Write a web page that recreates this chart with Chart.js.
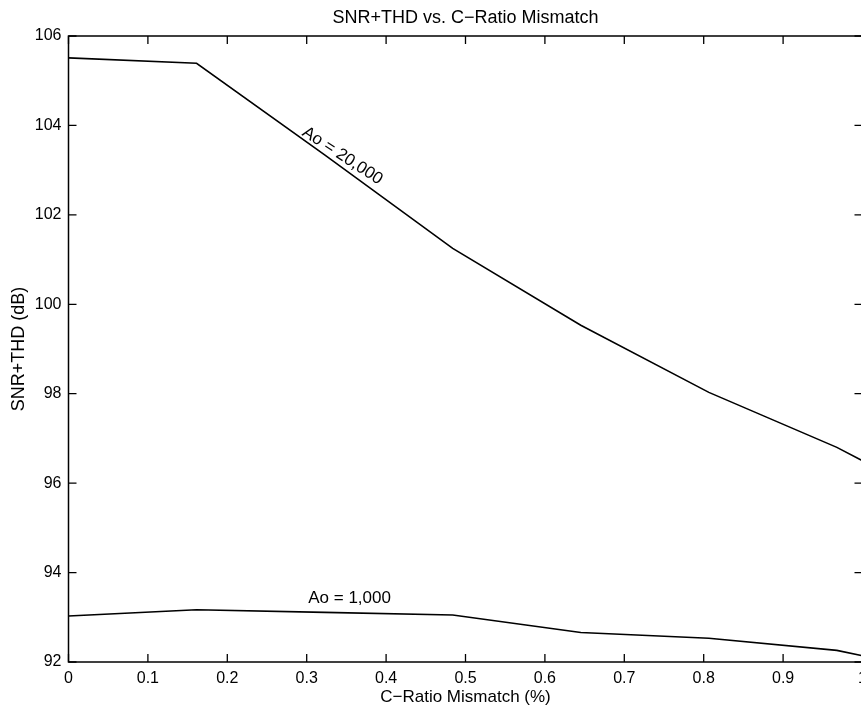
<!DOCTYPE html>
<html>
<head>
<meta charset="utf-8">
<script src="https://cdn.jsdelivr.net/npm/chart.js@4"></script>
<style>
  html, body { margin: 0; padding: 0; background: #fff; overflow: hidden; width: 861px; height: 709px; }
  canvas { display: block; }
</style>
</head>
<body>
<canvas id="c" width="931" height="709"></canvas>
<script>
// ---- data ----
const mismatchPct = [0, 0.1613, 0.3226, 0.4839, 0.6452, 0.8065, 0.9677, 1.0];
const snrAo20000 = [105.51, 105.39, 103.34, 101.25, 99.53, 98.03, 96.80, 96.50];
const snrAo1000  = [93.03, 93.17, 93.11, 93.05, 92.66, 92.53, 92.26, 92.14];
const xTicks = [0, 0.1, 0.2, 0.3, 0.4, 0.5, 0.6, 0.7, 0.8, 0.9, 1];
const yTicks = [92, 94, 96, 98, 100, 102, 104, 106];
const curveLabels = ['Ao = 20,000', 'Ao = 1,000'];
const labelAnchorX = [0.345, 0.354];
const labelAnchorY = [103.32, 93.43];

const FONT = '"Liberation Sans", Arial, Helvetica, sans-serif';

const toPoints = (xs, ys) => xs.map((x, i) => ({ x: x, y: ys[i] }));

const frameAndTicks = {
  id: 'frameAndTicks',
  afterDatasetsDraw(chart) {
    const { ctx, chartArea: a, scales: { x, y } } = chart;
    const tl = 8;
    ctx.save();
    ctx.strokeStyle = '#000';
    ctx.lineWidth = 1.3;
    ctx.beginPath();
    xTicks.forEach(v => {
      const px = x.getPixelForValue(v);
      ctx.moveTo(px, a.bottom); ctx.lineTo(px, a.bottom - tl);
      ctx.moveTo(px, a.top); ctx.lineTo(px, a.top + tl);
    });
    yTicks.forEach(v => {
      const py = y.getPixelForValue(v);
      ctx.moveTo(a.left, py); ctx.lineTo(a.left + tl, py);
      ctx.moveTo(a.right, py); ctx.lineTo(a.right - tl, py);
    });
    ctx.stroke();
    ctx.lineWidth = 1.5;
    ctx.strokeRect(a.left, a.top, a.right - a.left, a.bottom - a.top);
    ctx.restore();

    // curve labels
    ctx.save();
    ctx.fillStyle = '#000';
    ctx.font = '17px ' + FONT;
    ctx.textAlign = 'center';
    ctx.textBaseline = 'middle';
    const angles = [33 * Math.PI / 180, 0];
    curveLabels.forEach((t, i) => {
      const px = x.getPixelForValue(labelAnchorX[i]);
      const py = y.getPixelForValue(labelAnchorY[i]);
      ctx.save();
      ctx.translate(px, py);
      ctx.rotate(angles[i]);
      ctx.fillText(t, 0, 0);
      ctx.restore();
    });
    ctx.restore();
  }
};

new Chart(document.getElementById('c'), {
  type: 'line',
  data: {
    datasets: [
      { label: curveLabels[0], data: toPoints(mismatchPct, snrAo20000), borderColor: '#000', borderWidth: 1.6, pointRadius: 0, tension: 0, fill: false },
      { label: curveLabels[1], data: toPoints(mismatchPct, snrAo1000), borderColor: '#000', borderWidth: 1.6, pointRadius: 0, tension: 0, fill: false }
    ]
  },
  options: {
    responsive: false,
    animation: false,
    devicePixelRatio: 1,
    layout: { padding: 0 },
    plugins: {
      legend: { display: false },
      tooltip: { enabled: false },
      title: {
        display: true,
        text: 'SNR+THD vs. C\u2212Ratio Mismatch',
        color: '#000',
        font: { family: FONT, size: 18, weight: 'normal' },
        padding: { top: 7.5, bottom: 6.9 }
      }
    },
    scales: {
      x: {
        type: 'linear',
        min: 0, max: 1,
        afterBuildTicks: s => { s.ticks = xTicks.map(v => ({ value: v })); },
        afterFit: s => { s.height = 47; },
        grid: { display: false, drawTicks: false },
        border: { display: false },
        ticks: {
          color: '#000',
          font: { family: FONT, size: 16 },
          padding: 7,
          maxRotation: 0,
          autoSkip: false,
          callback: v => String(v)
        },
        title: {
          display: true,
          text: 'C\u2212Ratio Mismatch (%)',
          color: '#000',
          font: { family: FONT, size: 17 },
          padding: { top: 0, bottom: 1 }
        }
      },
      y: {
        type: 'linear',
        min: 92, max: 106,
        afterBuildTicks: s => { s.ticks = yTicks.map(v => ({ value: v })); },
        afterFit: s => { s.width = 68.5; },
        grid: { display: false, drawTicks: false },
        border: { display: false },
        ticks: {
          color: '#000',
          font: { family: FONT, size: 16 },
          padding: 7,
          autoSkip: false,
          callback: v => String(v)
        },
        title: {
          display: true,
          text: 'SNR+THD (dB)',
          color: '#000',
          font: { family: FONT, size: 18 },
          padding: { top: 8, bottom: 0 }
        }
      },
      yRight: {
        type: 'linear',
        position: 'right',
        min: 92, max: 106,
        afterFit: s => { s.width = 68.5; },
        grid: { display: false, drawTicks: false },
        border: { display: false },
        ticks: { display: false }
      }
    }
  },
  plugins: [frameAndTicks]
});
</script>
</body>
</html>
